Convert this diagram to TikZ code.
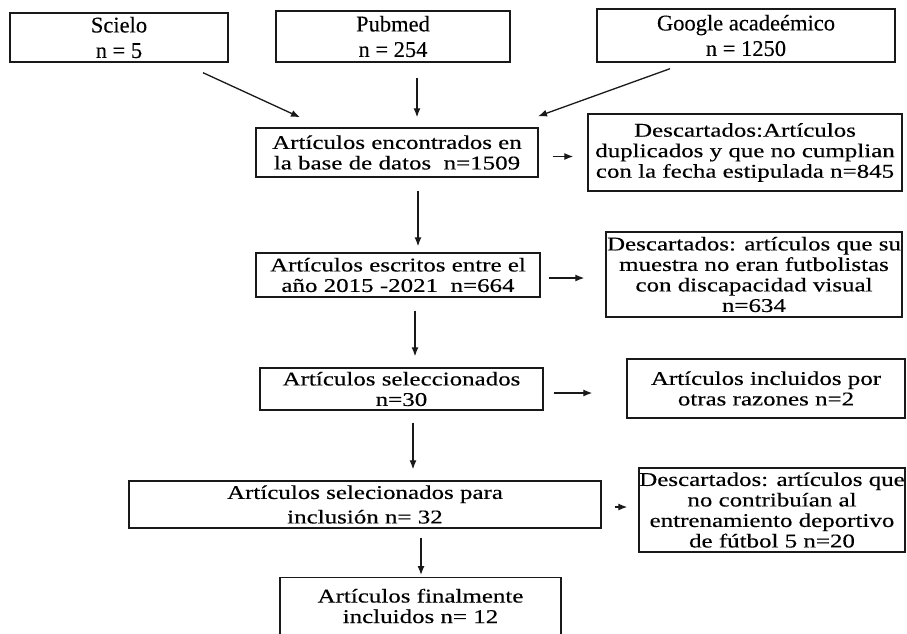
\documentclass[tikz,border=0pt]{standalone}
\usepackage{fontspec}
\setmainfont{Liberation Serif}
\newfontfamily\topfont{Liberation Serif}[FakeBold=0.2]
\newfontfamily\widefont{Liberation Serif}[FakeStretch=1.28,FakeBold=0.3]
\usetikzlibrary{arrows.meta,calc}
\begin{document}
\begin{tikzpicture}[x=1pt,y=-1pt,
  topbox/.style={draw=black!90, line width=1.4pt, align=center, inner sep=0pt,
    font={\topfont\fontsize{22.5}{25.5}\selectfont}},
  lowbox/.style={draw=black!90, line width=1.4pt, align=center, inner sep=0pt,
    font={\widefont\fontsize{19.5}{20.5}\selectfont}},
  arr/.style={line width=1.3pt, draw=black!90, -{Latex[length=9pt,width=7pt]}}]
\useasboundingbox (0,0) rectangle (907,633);
\clip (0,0) rectangle (907,633);
\fill[white] (0,0) rectangle (907,633);
% top sources
\node[topbox, minimum width=218, minimum height=49] (sci) at (119,37.5) {Scielo\\n = 5};
\node[topbox, minimum width=234, minimum height=51] (pub) at (393,36.5) {Pubmed\\n = 254};
\node[topbox, minimum width=298, minimum height=53] (goo) at (746,35.5) {Google acadeémico\\n = 1250};
% main column
\node[lowbox, minimum width=282, minimum height=49] (enc) at (397,152.5) {Artículos encontrados en\\la base de datos\ \ n=1509};
\node[lowbox, minimum width=284, minimum height=44] (esc) at (398,275) {Artículos escritos entre el\\año 2015 -2021\ \ n=664};
\node[lowbox, minimum width=283, minimum height=42] (sel) at (401.5,389) {Artículos seleccionados\\n=30};
\node[lowbox, minimum width=472, minimum height=47] (spa) at (365,504.5) {Artículos selecionados para\\[4pt]inclusión n= 32};
\node[draw=black!90, line width=1.4pt, minimum width=281, minimum height=70, anchor=north, inner sep=0pt] (fin) at (420.5,577) {};
\node[lowbox, draw=none] (fintxt) at (420.5,606) {Artículos finalmente\\incluidos n= 12};
% side boxes
\node[lowbox, minimum width=314, minimum height=77] (d1) at (745,152.5) {Descartados:Artículos\\duplicados y que no cumplian\\con la fecha estipulada n=845};
\node[lowbox, minimum width=296, minimum height=85] (d2) at (754,274.5) {Descartados: artículos que su\\muestra no eran futbolistas\\con discapacidad visual\\n=634};
\node[lowbox, minimum width=278, minimum height=59] (inc) at (766,388.5) {Artículos incluidos por\\otras razones n=2};
\node[lowbox, minimum width=266, minimum height=84] (d3) at (772,510) {Descartados: artículos que\\no contribuían al\\entrenamiento deportivo\\de fútbol 5 n=20};
% arrows
\draw[arr] ($(sci.south)+(84,10)$) -- ($(enc.north)+(-97,-10)$);
\draw[arr] ($(pub.south)+(24,15)$) -- ($(enc.north)+(20,-10)$);
\draw[arr] ($(goo.south)+(-76,6)$) -- ($(enc.north)+(141,-11)$);
\draw[arr] ($(enc.east)+(14,4)$) -- ($(d1.west)+(-14,4)$);
\draw[arr] ($(enc.south)+(21,13)$) -- ($(esc.north)+(20,-6)$);
\draw[arr] ($(esc.east)+(8,3)$) -- ($(d2.west)+(-21,3.5)$);
\draw[arr] ($(esc.south)+(17,13)$) -- ($(sel.north)+(13.5,-11)$);
\draw[arr] ($(sel.east)+(10,4)$) -- ($(inc.west)+(-34,4.5)$);
\draw[arr] ($(sel.south)+(11.5,12)$) -- ($(spa.north)+(48,-11)$);
\draw[arr] ($(spa.east)+(13,2.5)$) -- ($(d3.west)+(-11,-3)$);
\draw[arr] ($(spa.south)+(56,9)$) -- ($(fin.north)+(0.5,-2)$);
\end{tikzpicture}
\end{document}
